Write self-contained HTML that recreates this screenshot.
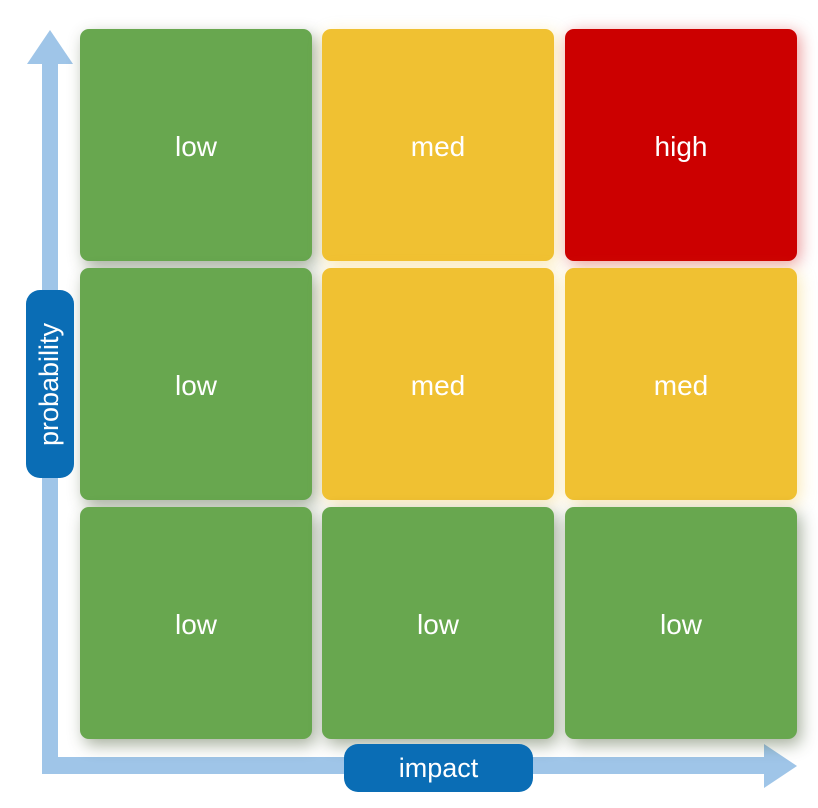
<!DOCTYPE html>
<html><head><style>
body{margin:0;width:818px;height:808px;background:#fff;position:relative;overflow:hidden;font-family:"Liberation Sans",sans-serif}
.c{position:absolute;width:232px;height:232px;border-radius:9px;color:#fff;font-size:28px;display:flex;align-items:center;justify-content:center;box-sizing:border-box;padding-top:4px}
.g{background:#68a74f;box-shadow:4px 6px 16px rgba(60,80,40,.45)}
.y{background:#f0c132;box-shadow:3px 4px 16px rgba(240,193,50,.35)}
.r{background:#cc0000;box-shadow:3px 3px 16px rgba(204,0,0,.4)}
.pill{position:absolute;background:#0a6db5;color:#fff;font-size:27px;display:flex;align-items:center;justify-content:center}
</style></head><body>
<svg width="818" height="808" style="position:absolute;left:0;top:0">
<rect x="42" y="60" width="16" height="714" fill="#9fc5e8"/>
<rect x="42" y="757" width="728" height="17" fill="#9fc5e8"/>
<polygon points="50,30 27,64 73,64" fill="#9fc5e8"/>
<polygon points="797,766 764,744 764,788" fill="#9fc5e8"/>
</svg>
<div class="c g" style="left:80px;top:29px">low</div>
<div class="c y" style="left:322px;top:29px">med</div>
<div class="c r" style="left:565px;top:29px">high</div>
<div class="c g" style="left:80px;top:268px">low</div>
<div class="c y" style="left:322px;top:268px">med</div>
<div class="c y" style="left:565px;top:268px">med</div>
<div class="c g" style="left:80px;top:507px">low</div>
<div class="c g" style="left:322px;top:507px">low</div>
<div class="c g" style="left:565px;top:507px">low</div>
<div class="pill" style="left:26px;top:290px;width:48px;height:188px;border-radius:14px"><span style="transform:rotate(-90deg);white-space:nowrap">probability</span></div>
<div class="pill" style="left:344px;top:744px;width:189px;height:48px;border-radius:14px">impact</div>
</body></html>
